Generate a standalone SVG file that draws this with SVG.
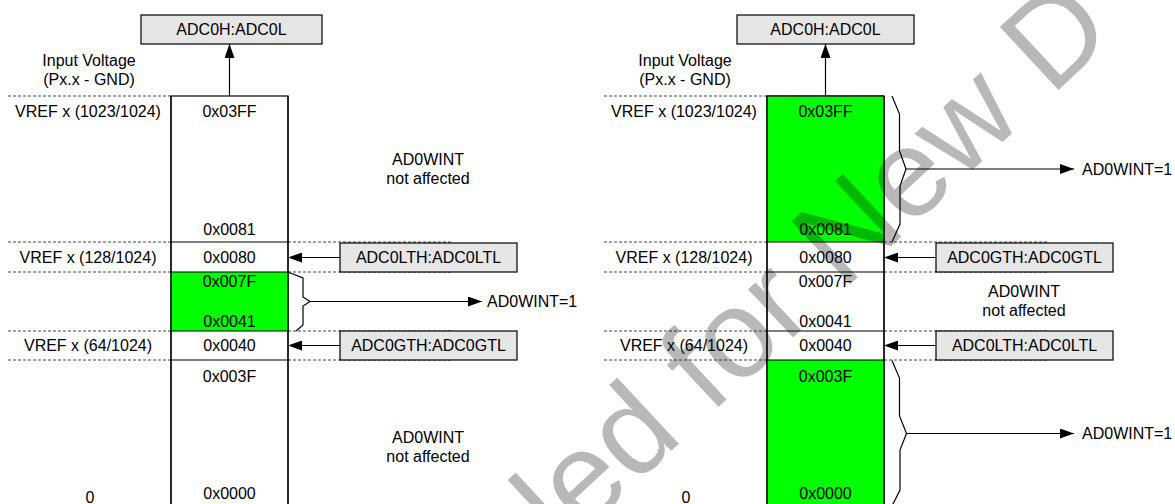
<svg xmlns="http://www.w3.org/2000/svg" width="1175" height="504" viewBox="0 0 1175 504">
<defs>
<marker id="ah" viewBox="0 0 14 10" refX="14" refY="5" markerWidth="14" markerHeight="10" markerUnits="userSpaceOnUse" orient="auto"><path d="M0,0 L14,5 L0,10 z" fill="#000"/></marker>
<style>
text{font-family:"Liberation Sans",Arial,sans-serif;font-size:16px;fill:#000}
.m{text-anchor:middle}
.reg{fill:#e6e6e6;stroke:#000;stroke-width:1.2}
.col{fill:#fff;stroke:#000;stroke-width:1.2}
.grn{fill:#00ff00;stroke:none}
.sep{stroke:#000;stroke-width:1.2}
.dash{stroke:#444;stroke-width:1;stroke-dasharray:3,2;fill:none}
.con{stroke:#000;stroke-width:1.2;fill:none}
.wm{font-size:125px;fill:#000;fill-opacity:0.28}
</style>
</defs>
<rect width="1175" height="504" fill="#fff"/>

<g id="guides">
<path class="dash" d="M8,96H171M8,242H171M8,272H171M8,331H171M8,360H171M288,242H452M288,272H452M288,331H452M288,360H452"/>
<path class="dash" d="M604,96H767M604,242H767M604,272H767M604,331H767M604,360H767M884,242H1048M884,272H1048M884,331H1048M884,360H1048"/>
</g>

<!-- Left diagram -->
<g id="L-column">
<rect class="col" x="171" y="96" width="117" height="420"/>
<rect class="grn" x="171.6" y="272" width="115.8" height="59"/>
<path class="sep" d="M171,242H288M171,272H288M171,331H288M171,360H288"/>
<path class="sep" d="M171,96V504M288,96V504"/>
<text class="m" x="229.5" y="117">0x03FF</text>
<text class="m" x="229.5" y="235">0x0081</text>
<text class="m" x="229.5" y="263">0x0080</text>
<text class="m" x="229.5" y="287">0x007F</text>
<text class="m" x="229.5" y="327">0x0041</text>
<text class="m" x="229.5" y="351">0x0040</text>
<text class="m" x="229.5" y="382">0x003F</text>
<text class="m" x="229.5" y="499">0x0000</text>
</g>
<g id="L-adc"><rect class="reg" x="141" y="15" width="181" height="29"/><text class="m" x="231.5" y="35">ADC0H:ADC0L</text></g>
<g id="L-labels">
<text class="m" x="89" y="66">Input Voltage</text>
<text class="m" x="89" y="85">(Px.x - GND)</text>
<text class="m" x="88" y="117">VREF x (1023/1024)</text>
<text class="m" x="88" y="263">VREF x (128/1024)</text>
<text class="m" x="88" y="351">VREF x (64/1024)</text>
<text class="m" x="90" y="503">0</text>
</g>
<g id="L-lth"><rect class="reg" x="340" y="243" width="177" height="29"/><text class="m" x="428.5" y="263">ADC0LTH:ADC0LTL</text></g>
<g id="L-gth"><rect class="reg" x="340" y="331" width="177" height="29"/><text class="m" x="428.5" y="351">ADC0GTH:ADC0GTL</text></g>
<g id="L-na1"><text class="m" x="428" y="165">AD0WINT</text><text class="m" x="428" y="184">not affected</text></g>
<g id="L-na2"><text class="m" x="428" y="443">AD0WINT</text><text class="m" x="428" y="462">not affected</text></g>
<g id="L-int"><text x="487" y="307">AD0WINT=1</text></g>

<!-- Right diagram -->
<g id="R-column">
<rect class="col" x="767" y="96" width="117" height="420"/>
<rect class="grn" x="767.6" y="96.6" width="115.8" height="145.4"/>
<rect class="grn" x="767.6" y="360" width="115.8" height="150"/>
<path class="sep" d="M767,242H884M767,272H884M767,331H884M767,360H884"/>
<path class="sep" d="M767,96V504M884,96V504M767,96H884"/>
<text class="m" x="825.5" y="117">0x03FF</text>
<text class="m" x="825.5" y="235">0x0081</text>
<text class="m" x="825.5" y="263">0x0080</text>
<text class="m" x="825.5" y="287">0x007F</text>
<text class="m" x="825.5" y="327">0x0041</text>
<text class="m" x="825.5" y="351">0x0040</text>
<text class="m" x="825.5" y="382">0x003F</text>
<text class="m" x="825.5" y="499">0x0000</text>
</g>
<g id="R-adc"><rect class="reg" x="737" y="15" width="177" height="29"/><text class="m" x="825.5" y="35">ADC0H:ADC0L</text></g>
<g id="R-labels">
<text class="m" x="685" y="66">Input Voltage</text>
<text class="m" x="685" y="85">(Px.x - GND)</text>
<text class="m" x="684" y="117">VREF x (1023/1024)</text>
<text class="m" x="684" y="263">VREF x (128/1024)</text>
<text class="m" x="684" y="351">VREF x (64/1024)</text>
<text class="m" x="686" y="503">0</text>
</g>
<g id="R-gth"><rect class="reg" x="936" y="243" width="177" height="29"/><text class="m" x="1024.5" y="263">ADC0GTH:ADC0GTL</text></g>
<g id="R-lth"><rect class="reg" x="936" y="331" width="177" height="29"/><text class="m" x="1024.5" y="351">ADC0LTH:ADC0LTL</text></g>
<g id="R-na"><text class="m" x="1024" y="297">AD0WINT</text><text class="m" x="1024" y="316">not affected</text></g>
<g id="R-int1"><text x="1082" y="175">AD0WINT=1</text></g>
<g id="R-int2"><text x="1082" y="439">AD0WINT=1</text></g>

<g id="connectors">
<path class="con" d="M229.5,96V44" marker-end="url(#ah)"/>
<path class="con" d="M340,257.5H288" marker-end="url(#ah)"/>
<path class="con" d="M340,345.5H288" marker-end="url(#ah)"/>
<path class="con" d="M289,272.5L303,278L303,297L310,301.5L303,306L303,325L296,331"/>
<path class="con" d="M310,301.5H482" marker-end="url(#ah)"/>
<path class="con" d="M825.5,96V44" marker-end="url(#ah)"/>
<path class="con" d="M936,257.5H884" marker-end="url(#ah)"/>
<path class="con" d="M936,345.5H884" marker-end="url(#ah)"/>
<path class="con" d="M892,96L899.5,114L899.5,151L906,169L900,186L900,224L892,242"/>
<path class="con" d="M906,169H1074" marker-end="url(#ah)"/>
<path class="con" d="M892,360.5L899.5,378L899.5,416L906.5,433.5L900,450L900,490L892,506"/>
<path class="con" d="M906.5,433.5H1074" marker-end="url(#ah)"/>
</g>

<text class="wm" transform="translate(842.5 291.5) rotate(-43)" x="-1292" y="0">Not Recommended for New D</text>
</svg>
